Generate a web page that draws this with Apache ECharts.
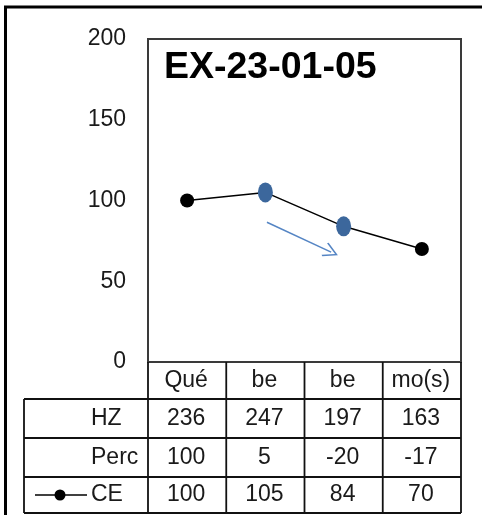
<!DOCTYPE html>
<html><head><meta charset="utf-8">
<script src="https://cdn.jsdelivr.net/npm/echarts@6/dist/echarts.min.js"></script>
<style>html,body{margin:0;padding:0;background:#fff}#c{width:482px;height:515px}</style>
</head><body><div id="c"></div>
<script>
var title = 'EX-23-01-05';
var categories = ['Qué', 'be', 'be', 'mo(s)'];
var rowNames = ['HZ', 'Perc', 'CE'];
var hz = [236, 247, 197, 163];
var perc = [100, 5, -20, -17];
var ce = [100, 105, 84, 70];
var highlighted = [false, true, true, false];
var yTicks = [0, 50, 100, 150, 200];
var arrowFrom = [1.02, 86.5];
var arrowTo = [1.84, 68];

var FONT = '"Liberation Sans", Arial, sans-serif';
var G = {left: 148, top: 39, width: 313, height: 323};
var chart = echarts.init(document.getElementById('c'));

var pts = ce.map(function (v, i) {
  return highlighted[i]
    ? {value: [i, v], symbolSize: [15, 20], itemStyle: {color: '#3c679c'}}
    : {value: [i, v], symbolSize: 14, itemStyle: {color: '#000'}};
});

chart.setOption({
  animation: false,
  title: {text: title, left: 159, top: 44, textStyle: {fontFamily: FONT, fontSize: 37.5, fontWeight: 'bold', color: '#000'}},
  grid: {left: G.left, top: G.top, width: G.width, height: G.height, show: true, borderColor: '#3a3a3a', borderWidth: 2},
  xAxis: {type: 'value', min: -0.5, max: 3.5, show: false},
  yAxis: {type: 'value', min: yTicks[0], max: yTicks[yTicks.length - 1], interval: 50,
    axisLine: {show: false}, axisTick: {show: false}, splitLine: {show: false},
    axisLabel: {margin: 22, fontFamily: FONT, fontSize: 23, color: '#1a1a1a', padding: [0, 0, 8, 0]}},
  series: [{
    type: 'line', data: pts, symbol: 'circle',
    lineStyle: {color: '#000', width: 1.5}, z: 3,
    markLine: {
      silent: true, symbol: ['none', 'path://M0,0 L10,13 L8.6,14.2 L0,3 L-8.6,14.2 L-10,13 Z'],
      symbolSize: [15, 15], label: {show: false},
      lineStyle: {color: '#5585c4', width: 1.5, type: 'solid'},
      data: [[{coord: arrowFrom}, {coord: arrowTo}]]
    }
  }]
});

// data table below the plot
var colX = categories.map(function (c, i) { return chart.convertToPixel({xAxisIndex: 0}, i); });
var left = G.left, right = G.left + G.width, cw = G.width / categories.length;
var rowsY = [362, 399, 438, 477, 513];
var tableLeft = 24;
var els = [];
function line(x1, y1, x2, y2, w, c) {
  els.push({type: 'line', shape: {x1: x1, y1: y1, x2: x2, y2: y2}, style: {stroke: c || '#111', lineWidth: w || 1.8}, z: 10});
}
function text(t, x, y, align) {
  els.push({type: 'text', x: x, y: y, style: {text: String(t), x: 0, y: 0, align: align || 'center', verticalAlign: 'middle', font: '23px ' + FONT, fill: '#1a1a1a'}, z: 11});
}
// outer frame
line(4, 7, 482, 7, 3, '#000');
line(5.5, 7, 5.5, 515, 3, '#000');
// vertical lines
for (var k = 0; k <= categories.length; k++) line(left + k * cw, rowsY[0], left + k * cw, rowsY[4]);
line(tableLeft, rowsY[1], tableLeft, rowsY[4]);
for (var r = 1; r < rowsY.length; r++) line(tableLeft, rowsY[r], right, rowsY[r]);
categories.forEach(function (c, i) { text(c, colX[i] - 1, (rowsY[0] + rowsY[1]) / 2); });
var rows = [hz, perc, ce];
rows.forEach(function (arr, ri) {
  var cy = (rowsY[ri + 1] + rowsY[ri + 2]) / 2;
  text(rowNames[ri], 91, cy, 'left');
  arr.forEach(function (v, i) { text(v, colX[i] - 1, cy); });
});
// legend key for CE
var ky = (rowsY[3] + rowsY[4]) / 2;
line(35, ky, 87, ky, 1.5, '#000');
els.push({type: 'circle', shape: {cx: 60, cy: ky, r: 5.5}, style: {fill: '#000'}, z: 11});
chart.setOption({graphic: {elements: els}});
</script></body></html>
